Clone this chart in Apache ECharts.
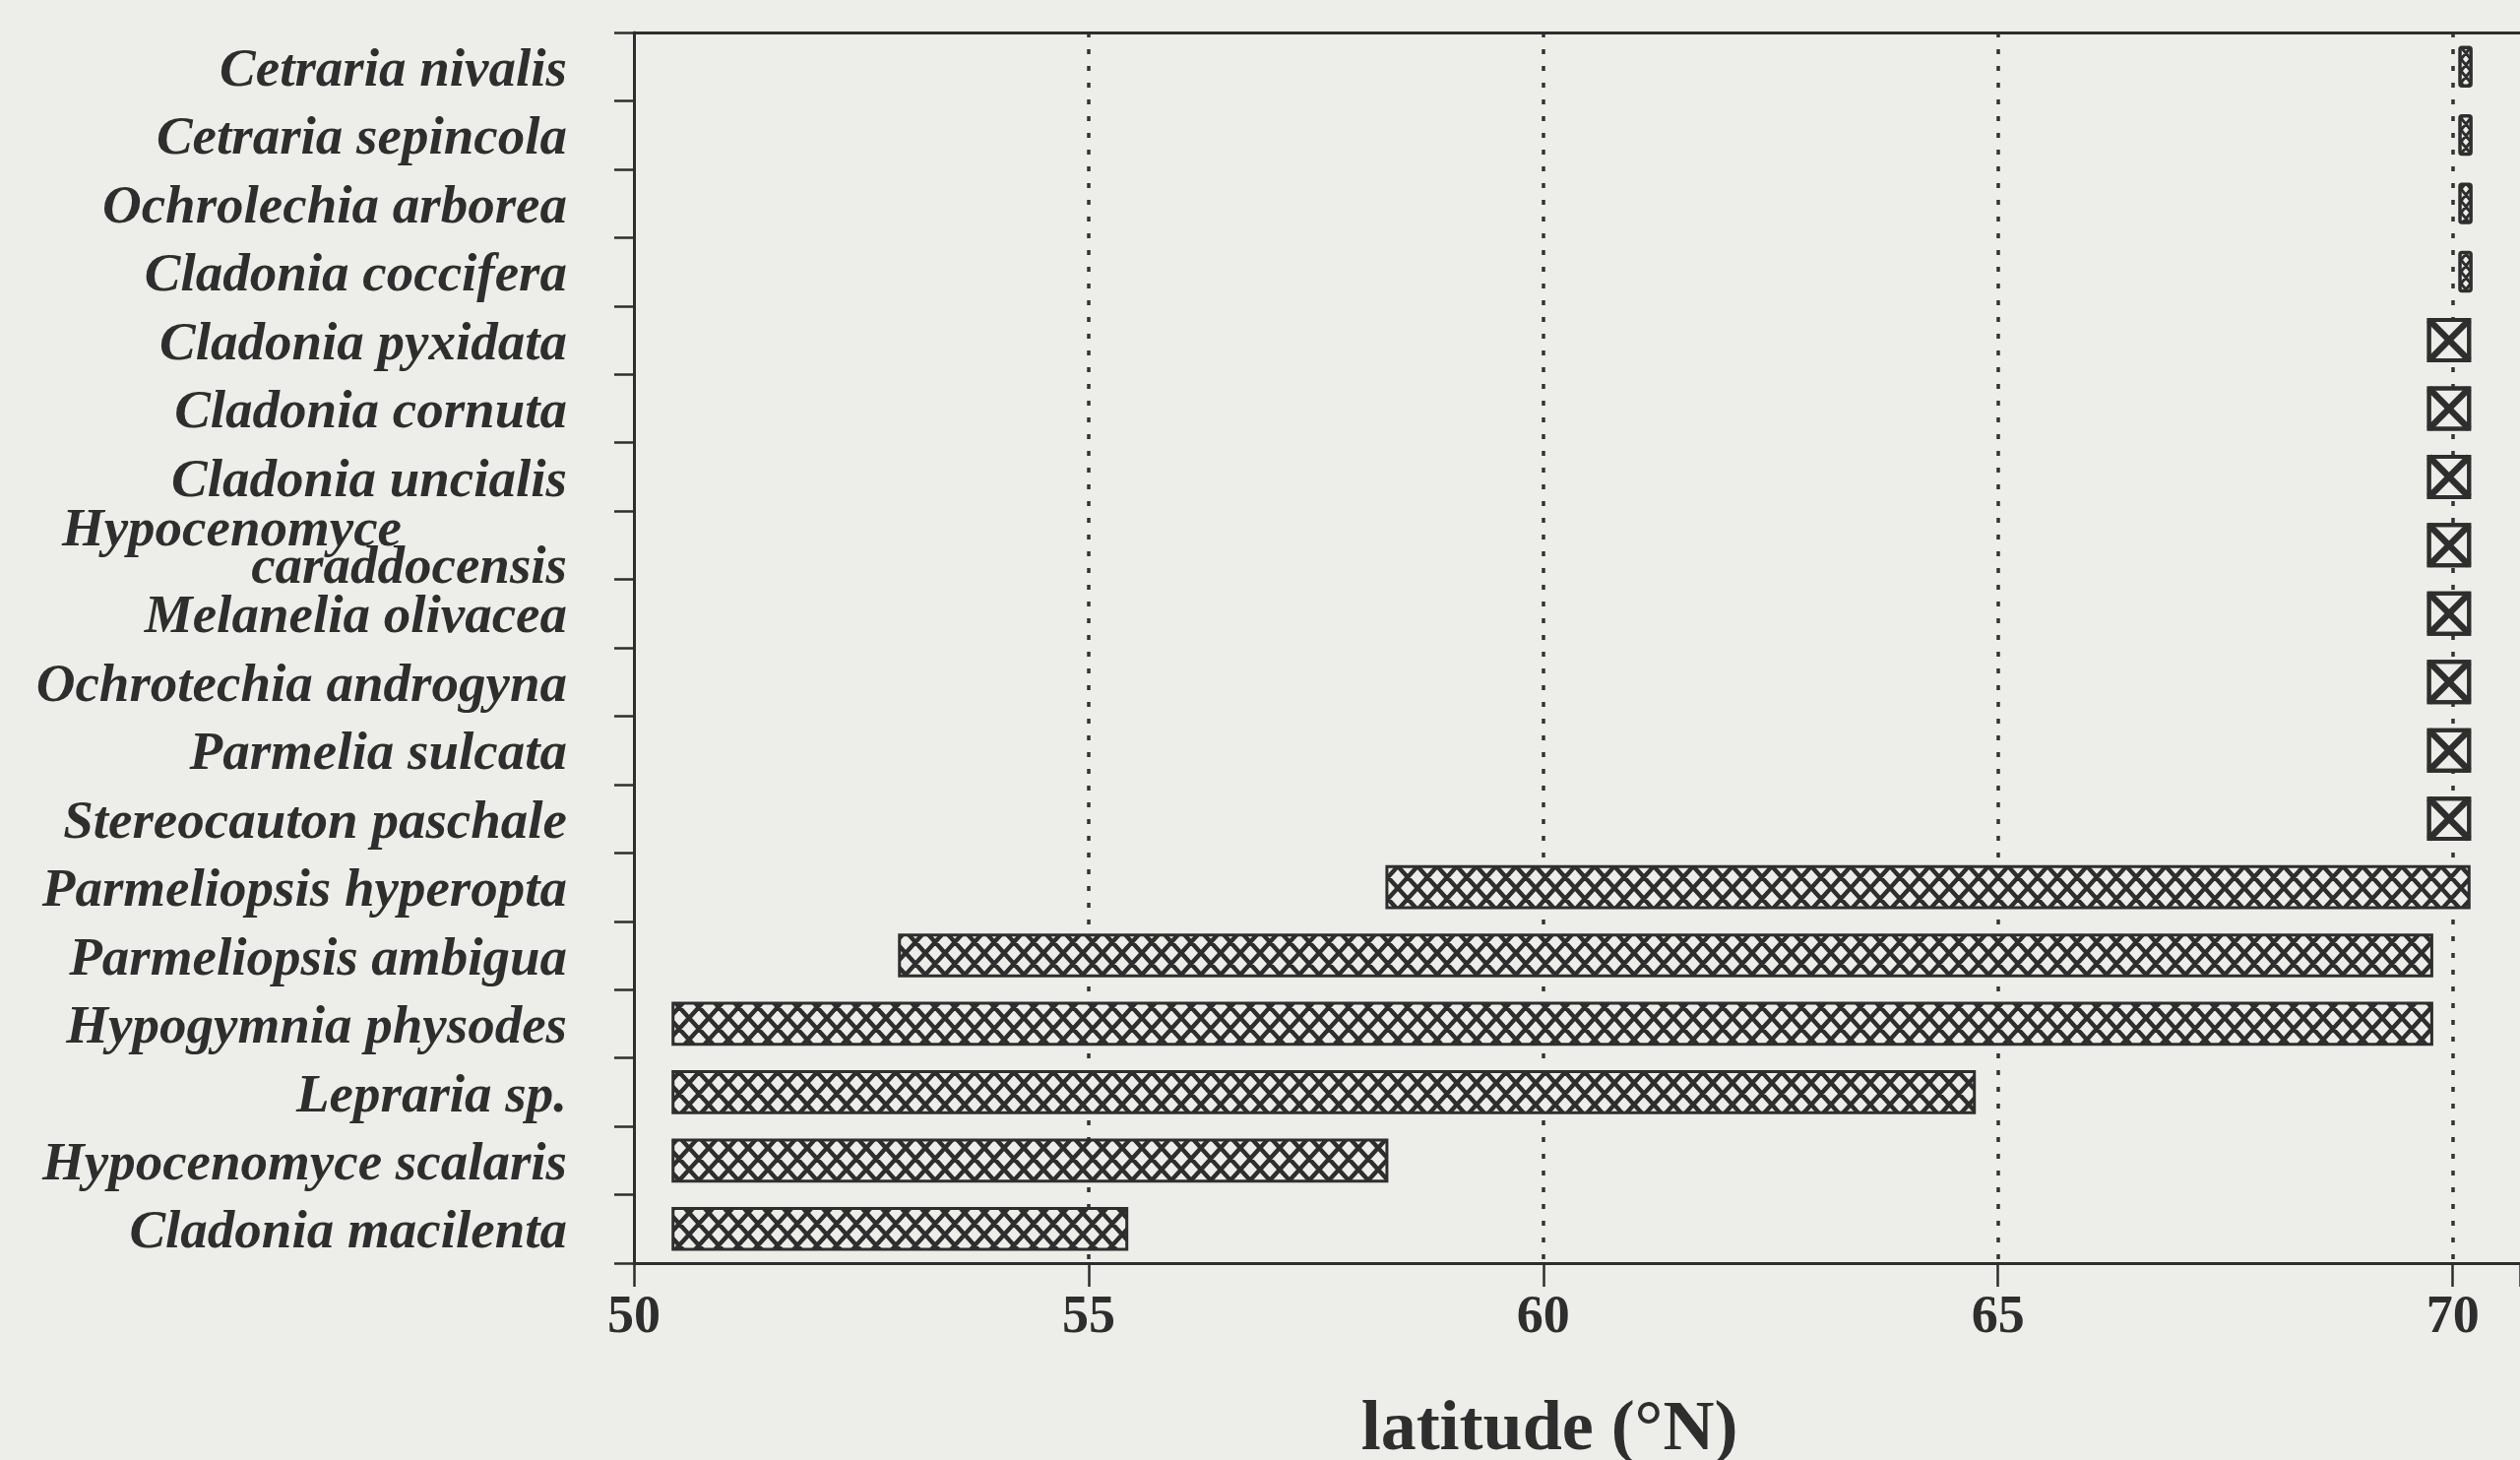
<!DOCTYPE html>
<html><head><meta charset="utf-8">
<script src="https://cdn.jsdelivr.net/npm/echarts@6/dist/echarts.min.js"></script>
<style>html,body{margin:0;padding:0;background:#edede9;}#chart{width:2560px;height:1483px;}</style>
</head><body><div id="chart"></div>
<script>
// ---- data ----
const species = [
  'Cetraria nivalis', 'Cetraria sepincola', 'Ochrolechia arborea', 'Cladonia coccifera',
  'Cladonia pyxidata', 'Cladonia cornuta', 'Cladonia uncialis', 'Hypocenomyce caraddocensis',
  'Melanelia olivacea', 'Ochrotechia androgyna', 'Parmelia sulcata', 'Stereocauton paschale',
  'Parmeliopsis hyperopta', 'Parmeliopsis ambigua', 'Hypogymnia physodes', 'Lepraria sp.',
  'Hypocenomyce scalaris', 'Cladonia macilenta'
];
const rangeStart = [70.08, 70.08, 70.08, 70.08, 69.74, 69.74, 69.74, 69.74, 69.74, 69.74, 69.74, 69.74,
  58.28, 52.92, 50.43, 50.43, 50.43, 50.43];
const rangeEnd = [70.20, 70.20, 70.20, 70.20, 70.18, 70.18, 70.18, 70.18, 70.18, 70.18, 70.18, 70.18,
  70.18, 69.77, 69.77, 64.74, 58.28, 55.42];
const xTickLabels = [50, 55, 60, 65, 70];
const xAxisTitle = 'latitude (°N)';

// ---- styling ----
const BG = '#edede9';
const INK = '#2e2e2e';
const FONT = '"Liberation Serif", "Times New Roman", serif';

function makeHatch(w, h, lw) {
  const c = document.createElement('canvas');
  c.width = w; c.height = h;
  const g = c.getContext('2d');
  g.fillStyle = BG; g.fillRect(0, 0, w, h);
  g.strokeStyle = INK; g.lineWidth = lw; g.lineCap = 'round';
  g.beginPath();
  for (let dx = -1; dx <= 1; dx++) for (let dy = -1; dy <= 1; dy++) {
    const ox = dx * w, oy = dy * h;
    g.moveTo(ox, oy); g.lineTo(ox + w, oy + h);
    g.moveTo(ox + w, oy); g.lineTo(ox, oy + h);
  }
  g.stroke();
  return c;
}
const hatch = makeHatch(20, 22, 4.5);
const hatchFill = { image: hatch, repeat: 'repeat' };
const smallHatch = makeHatch(10, 12, 3);
const smallHatchFill = { image: smallHatch, repeat: 'repeat' };

const seriesData = species.map((s, i) => [i, rangeStart[i], rangeEnd[i]]);
const xMin = xTickLabels[0];
const xMax = 70.74;

function renderItem(params, api) {
  const cat = api.value(0), s = api.value(1), e = api.value(2);
  const p0 = api.coord([s, cat]);
  const p1 = api.coord([e, cat]);
  const band = api.size([0, 1])[1];
  const len = e - s;
  const w = p1[0] - p0[0];
  if (len < 0.2) {
    const h = band * 0.56;
    return { type: 'rect', shape: { x: p0[0], y: p0[1] - h / 2, width: w, height: h, r: 2 },
      style: { fill: smallHatchFill, stroke: INK, lineWidth: 3.5 } };
  } else if (len < 1) {
    const h = band * 0.59;
    const x = p0[0], y = p0[1] - h / 2;
    return { type: 'group', children: [
      { type: 'rect', shape: { x: x, y: y, width: w, height: h }, style: { fill: BG, stroke: INK, lineWidth: 4 } },
      { type: 'line', shape: { x1: x, y1: y, x2: x + w, y2: y + h }, style: { stroke: INK, lineWidth: 6.5 } },
      { type: 'line', shape: { x1: x + w, y1: y, x2: x, y2: y + h }, style: { stroke: INK, lineWidth: 6.5 } },
      { type: 'rect', shape: { x: x, y: y, width: w, height: h }, style: { fill: 'none', stroke: INK, lineWidth: 4 } }
    ] };
  }
  const h = band * 0.6;
  return { type: 'rect', shape: { x: p0[0], y: p0[1] - h / 2, width: w, height: h },
    style: { fill: hatchFill, stroke: INK, lineWidth: 3 } };
}

const chart = echarts.init(document.getElementById('chart'));
chart.setOption({
  backgroundColor: BG,
  animation: false,
  grid: { left: 644, right: 0, top: 33, bottom: 200, containLabel: false, outerBoundsMode: 'none' },
  xAxis: [{
    type: 'value', min: xMin, max: xMax, interval: 5, position: 'bottom',
    axisLine: { show: true, lineStyle: { color: INK, width: 3 } },
    axisTick: { show: true, length: 24, lineStyle: { color: INK, width: 2.5 } },
    axisLabel: { margin: 29, color: INK, fontFamily: FONT, fontSize: 54, fontWeight: 'bold',
      formatter: v => (xTickLabels.indexOf(v) >= 0 ? String(v) : '') },
    splitLine: { show: true, showMinLine: false, showMaxLine: false,
      lineStyle: { color: '#333333', width: 3.5, type: [5, 12] } },
    name: xAxisTitle, nameLocation: 'middle', nameGap: 134,
    nameTextStyle: { color: INK, fontFamily: FONT, fontSize: 72, fontWeight: 'bold', padding: [0, 56, 0, 0] }
  }, {
    type: 'value', min: xMin, max: xMax, position: 'top',
    axisLine: { show: true, onZero: false, lineStyle: { color: INK, width: 3 } },
    axisTick: { show: false }, axisLabel: { show: false }, splitLine: { show: false }
  }],
  yAxis: {
    type: 'category', data: species, inverse: true, boundaryGap: true,
    axisLine: { show: true, lineStyle: { color: INK, width: 3 } },
    axisTick: { show: true, length: 20, lineStyle: { color: INK, width: 2.5 } },
    axisLabel: {
      interval: 0, hideOverlap: false,
      margin: 68, color: INK, fontFamily: FONT, fontSize: 55, fontStyle: 'italic', fontWeight: 'bold',
      padding: [10, 0, 0, 0],
      formatter: function (name) {
        if (name.length > 24) {
          const k = name.indexOf(' ');
          return '{a|' + name.slice(0, k) + '}\n{b|' + name.slice(k + 1) + '}';
        }
        return name;
      },
      rich: {
        a: { fontFamily: FONT, fontSize: 55, fontStyle: 'italic', fontWeight: 'bold', color: INK, lineHeight: 38, padding: [0, 168, 0, 0] },
        b: { fontFamily: FONT, fontSize: 55, fontStyle: 'italic', fontWeight: 'bold', color: INK, lineHeight: 38 }
      }
    },
    splitLine: { show: false }
  },
  series: [{
    type: 'custom', renderItem: renderItem, data: seriesData,
    encode: { x: [1, 2], y: 0 }, clip: false
  }]
});
</script>
</body></html>
